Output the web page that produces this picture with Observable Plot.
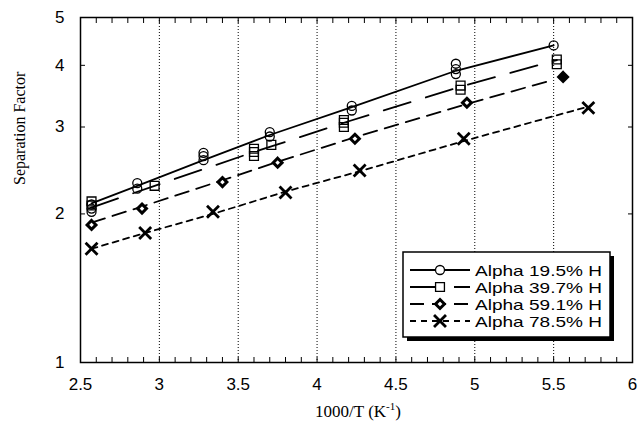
<!DOCTYPE html>
<html><head><meta charset="utf-8">
<script src="https://cdn.jsdelivr.net/npm/d3@7"></script>
<script src="https://cdn.jsdelivr.net/npm/@observablehq/plot@0.6"></script>
<style>body{margin:0;background:#fff} #chart{width:639px;height:424px}</style>
</head><body><div id="chart"></div>
<script>
// ---- data ----
const seriesNames = ["Alpha 19.5% H", "Alpha 39.7% H", "Alpha 59.1% H", "Alpha 78.5% H"];

const a195X = [2.57,2.57,2.57,2.86,2.86,3.28,3.28,3.28,3.70,3.70,4.22,4.22,4.88,4.88,4.88,5.50];
const a195Y = [2.02,2.05,2.09,2.25,2.31,2.57,2.62,2.66,2.87,2.93,3.24,3.31,3.84,3.93,4.03,4.39];
const fit195X = [2.57,2.86,3.28,3.70,4.22,4.88,5.50];
const fit195Y = [2.10,2.28,2.57,2.89,3.29,3.90,4.39];

const a397X = [2.57,2.57,2.97,3.60,3.60,3.60,3.71,4.17,4.17,4.17,4.91,4.91,5.52,5.52];
const a397Y = [2.08,2.12,2.28,2.62,2.67,2.71,2.76,3.00,3.06,3.10,3.57,3.64,4.02,4.11];
const fit397X = [2.57,2.97,3.60,3.71,4.17,4.91,5.52];
const fit397Y = [2.06,2.28,2.67,2.74,3.06,3.62,4.10];

const a591X = [2.57,2.89,3.40,3.75,4.24,4.95,5.56];
const a591Y = [1.90,2.05,2.32,2.54,2.84,3.36,3.79];
const a591Filled = [false,false,false,false,false,false,true];
const fit591X = [2.57,2.89,3.40,3.75,4.24,4.95,5.50];
const fit591Y = [1.92,2.07,2.34,2.55,2.86,3.34,3.74];

const a785X = [2.57,2.91,3.34,3.80,4.27,4.93,5.72];
const a785Y = [1.70,1.83,2.02,2.21,2.45,2.84,3.28];
const fit785X = [2.57,2.91,3.34,3.80,4.27,4.93,5.72];
const fit785Y = [1.70,1.83,2.00,2.22,2.44,2.81,3.30];

const xTickLabels = [2.5,3,3.5,4,4.5,5,5.5,6];
const xGrid = [3,3.5,4,4.5,5,5.5];
const xMinor = d3.range(25, 61).map(d => d / 10);
const yTickLabels = [1,2,3,4,5];

// ---- build tables ----
const zip = (xs, ys, extra = {}) => xs.map((x, i) => ({x, y: ys[i], ...Object.fromEntries(Object.entries(extra).map(([k, v]) => [k, v[i]]))}));
const pts195 = zip(a195X, a195Y), fit195 = zip(fit195X, fit195Y);
const pts397 = zip(a397X, a397Y), fit397 = zip(fit397X, fit397Y);
const pts591 = zip(a591X, a591Y, {filled: a591Filled}), fit591 = zip(fit591X, fit591Y);
const pts785 = zip(a785X, a785Y), fit785 = zip(fit785X, fit785Y);

const dashes = [null, "28,16", "14,8", "6,5"];
const sans = "Liberation Sans, Arial, Helvetica, sans-serif";
const serif = "Liberation Serif, Times New Roman, serif";

const plot = Plot.plot({
  width: 639, height: 424,
  marginLeft: 80, marginRight: 7, marginTop: 17, marginBottom: 62,
  style: {background: "white", color: "black"},
  x: {domain: [2.5, 6], label: null},
  y: {type: "log", domain: [1, 5], label: null},
  marks: [
    Plot.gridX(xGrid, {stroke: "black", strokeOpacity: 1, strokeDasharray: "1,2", strokeWidth: 1}),
    Plot.axisX(xMinor, {anchor: "bottom", tickSize: 5, dy: -5, tickFormat: () => "", strokeWidth: 1}),
    Plot.axisX(xMinor, {anchor: "top", tickSize: 5, dy: 5, tickFormat: () => "", strokeWidth: 1}),
    Plot.axisX(xTickLabels, {anchor: "bottom", tickSize: 0, tickPadding: 15, fontSize: 17, fontFamily: sans, tickFormat: d => String(d)}),
    Plot.axisY(yTickLabels, {anchor: "left", tickSize: 5, dx: 5, tickFormat: () => "", strokeWidth: 1}),
    Plot.axisY(yTickLabels, {anchor: "right", tickSize: 5, dx: -5, tickFormat: () => "", strokeWidth: 1}),
    Plot.axisY(yTickLabels, {anchor: "left", tickSize: 0, tickPadding: 16, fontSize: 17, fontFamily: sans, tickFormat: d => String(d)}),
    Plot.frame({stroke: "black", strokeWidth: 1.5}),
    Plot.line(fit195, {x: "x", y: "y", stroke: "black", strokeWidth: 1.8}),
    Plot.line(fit397, {x: "x", y: "y", stroke: "black", strokeWidth: 1.8, strokeDasharray: dashes[1]}),
    Plot.line(fit591, {x: "x", y: "y", stroke: "black", strokeWidth: 1.8, strokeDasharray: dashes[2]}),
    Plot.line(fit785, {x: "x", y: "y", stroke: "black", strokeWidth: 1.8, strokeDasharray: dashes[3]}),
    Plot.dot(pts195, {x: "x", y: "y", symbol: "circle", r: 4.5, stroke: "black", fill: "none", strokeWidth: 1.3}),
    Plot.dot(pts397, {x: "x", y: "y", symbol: "square", r: 5, stroke: "black", fill: "none", strokeWidth: 1.3}),
    Plot.dot(pts591, {x: "x", y: "y", symbol: "diamond2", r: 4, stroke: "black", fill: d => d.filled ? "black" : "white", strokeWidth: 3}),
    Plot.dot(pts785, {x: "x", y: "y", symbol: "times", r: 5.5, stroke: "black", strokeWidth: 2.8}),
    Plot.text(["Separation Factor"], {frameAnchor: "left", dx: -61, dy: -5, rotate: -90, fontSize: 16, fontFamily: serif, fill: "black"})
  ]
});

const svg = d3.select(plot);
// x axis title with superscript
const xt = svg.append("text").attr("x", 358).attr("y", 417).attr("text-anchor", "middle")
  .attr("font-family", serif).attr("font-size", 17).attr("fill", "black");
xt.append("tspan").text("1000/T (K");
xt.append("tspan").attr("font-size", 11).attr("dy", -7).text("-1");
xt.append("tspan").attr("dy", 7).text(")");

// legend
const lg = svg.append("g");
lg.append("rect").attr("x", 407).attr("y", 256).attr("width", 207).attr("height", 85).attr("fill", "black");
lg.append("rect").attr("x", 403).attr("y", 252).attr("width", 207).attr("height", 85).attr("fill", "white").attr("stroke", "black").attr("stroke-width", 1.5);
const symbols = [d3.symbolCircle, d3.symbolSquare, d3.symbolDiamond2, d3.symbolTimes];
const symSizes = [Math.PI * 4.5 * 4.5, Math.PI * 25, Math.PI * 16, Math.PI * 5.5 * 5.5];
seriesNames.forEach((name, i) => {
  const cy = 270 + i * 17;
  const ln = lg.append("line").attr("x1", 410).attr("x2", 470).attr("y1", cy).attr("y2", cy)
    .attr("stroke", "black").attr("stroke-width", 1.8);
  if (dashes[i]) ln.attr("stroke-dasharray", dashes[i]);
  const p = lg.append("path").attr("transform", `translate(440,${cy})`)
    .attr("d", d3.symbol(symbols[i], symSizes[i])())
    .attr("stroke", "black");
  if (i === 3) p.attr("fill", "none").attr("stroke-width", 2.8);
  else if (i === 2) p.attr("fill", "white").attr("stroke-width", 3);
  else p.attr("fill", "white").attr("stroke-width", 1.3);
  lg.append("text").attr("x", 475).attr("y", cy + 5.5).attr("text-anchor", "start").attr("font-family", sans).attr("font-size", 15)
    .attr("textLength", 127).attr("lengthAdjust", "spacingAndGlyphs").attr("fill", "black").text(name);
});

document.getElementById("chart").appendChild(plot);
</script>
</body></html>
